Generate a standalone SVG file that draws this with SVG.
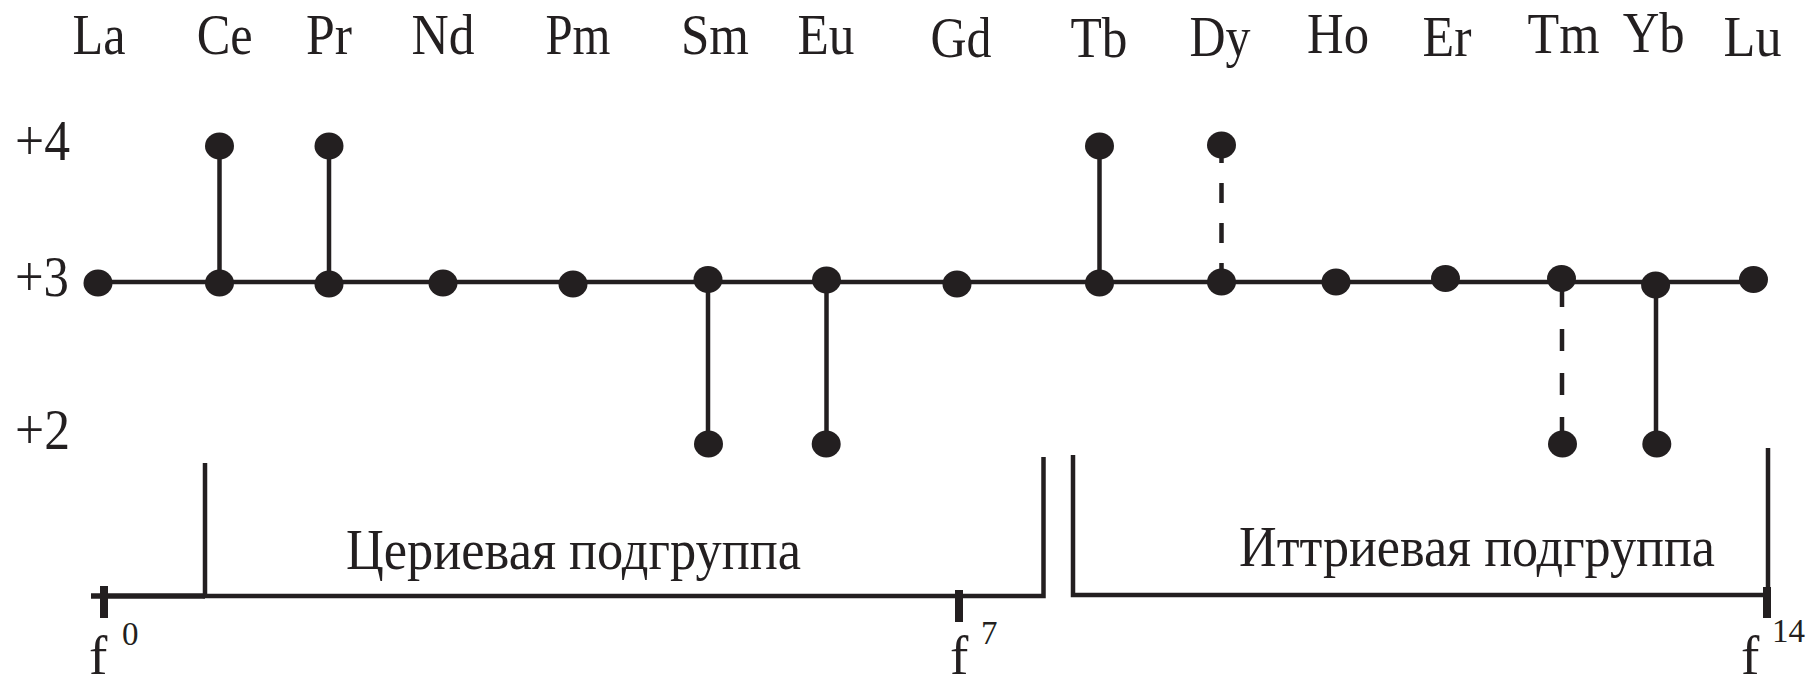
<svg xmlns="http://www.w3.org/2000/svg" width="1808" height="686" viewBox="0 0 1808 686">
<defs>
<style>
.lbl{font-family:"Liberation Serif","Times New Roman",serif;font-size:56px;fill:#231f20}
.f{font-family:"Liberation Serif","Times New Roman",serif;font-size:55px;fill:#231f20}
.sup{font-family:"Liberation Serif","Times New Roman",serif;font-size:33px;fill:#231f20}
.ln{stroke:#231f20;stroke-width:4.5;fill:none}
.dash{stroke-dasharray:20 20}
.dash2{stroke-dasharray:22 22}
.tick{stroke:#231f20;stroke-width:8;fill:none}
.dot{fill:#231f20}
</style>
</defs>
<rect width="1808" height="686" fill="#ffffff"/>

<g id="axis-labels">
<text class="lbl" x="15" y="160" textLength="55" lengthAdjust="spacingAndGlyphs">+4</text>
<text class="lbl" x="15" y="296" textLength="54" lengthAdjust="spacingAndGlyphs">+3</text>
<text class="lbl" x="15" y="449" textLength="55" lengthAdjust="spacingAndGlyphs">+2</text>
</g>

<g id="connectors">
<line class="ln" x1="98" y1="282" x2="1753" y2="282"/>
<line class="ln" x1="219.5" y1="146" x2="219.5" y2="282"/>
<line class="ln" x1="329" y1="146" x2="329" y2="282"/>
<line class="ln" x1="1099.5" y1="146" x2="1099.5" y2="282"/>
<line class="ln dash" x1="1221.5" y1="143" x2="1221.5" y2="283"/>
<line class="ln" x1="708" y1="280" x2="708" y2="444"/>
<line class="ln" x1="826.5" y1="280" x2="826.5" y2="444"/>
<line class="ln dash2" x1="1562" y1="285" x2="1562" y2="444"/>
<line class="ln" x1="1656" y1="285" x2="1656" y2="444"/>
</g>

<g id="el-La"><text class="lbl" x="99" y="54" text-anchor="middle" textLength="53" lengthAdjust="spacingAndGlyphs">La</text>
<ellipse class="dot" cx="98" cy="283" rx="14.5" ry="13.5"/></g>
<g id="el-Ce"><text class="lbl" x="224.7" y="54" text-anchor="middle" textLength="56" lengthAdjust="spacingAndGlyphs">Ce</text>
<ellipse class="dot" cx="219.5" cy="146" rx="14.5" ry="13.5"/><ellipse class="dot" cx="219.5" cy="283" rx="14.5" ry="13.5"/></g>
<g id="el-Pr"><text class="lbl" x="329" y="54" text-anchor="middle" textLength="46" lengthAdjust="spacingAndGlyphs">Pr</text>
<ellipse class="dot" cx="329" cy="146" rx="14.5" ry="13.5"/><ellipse class="dot" cx="329" cy="284" rx="14.5" ry="13.5"/></g>
<g id="el-Nd"><text class="lbl" x="443" y="54" text-anchor="middle" textLength="63" lengthAdjust="spacingAndGlyphs">Nd</text>
<ellipse class="dot" cx="443" cy="283" rx="14.5" ry="13.5"/></g>
<g id="el-Pm"><text class="lbl" x="578" y="54" text-anchor="middle" textLength="65" lengthAdjust="spacingAndGlyphs">Pm</text>
<ellipse class="dot" cx="573" cy="284" rx="14.5" ry="13.5"/></g>
<g id="el-Sm"><text class="lbl" x="715" y="54" text-anchor="middle" textLength="68" lengthAdjust="spacingAndGlyphs">Sm</text>
<ellipse class="dot" cx="708" cy="279.5" rx="14.5" ry="13.5"/><ellipse class="dot" cx="708.5" cy="444" rx="14.5" ry="13.5"/></g>
<g id="el-Eu"><text class="lbl" x="826" y="54" text-anchor="middle" textLength="57" lengthAdjust="spacingAndGlyphs">Eu</text>
<ellipse class="dot" cx="826.5" cy="280" rx="14.5" ry="13.5"/><ellipse class="dot" cx="826.2" cy="444" rx="14.5" ry="13.5"/></g>
<g id="el-Gd"><text class="lbl" x="961" y="57" text-anchor="middle" textLength="61" lengthAdjust="spacingAndGlyphs">Gd</text>
<ellipse class="dot" cx="957" cy="284" rx="14.5" ry="13.5"/></g>
<g id="el-Tb"><text class="lbl" x="1099" y="57" text-anchor="middle" textLength="57" lengthAdjust="spacingAndGlyphs">Tb</text>
<ellipse class="dot" cx="1099.5" cy="146" rx="14.5" ry="13.5"/><ellipse class="dot" cx="1099.5" cy="283" rx="14.5" ry="13.5"/></g>
<g id="el-Dy"><text class="lbl" x="1220" y="56" text-anchor="middle" textLength="61" lengthAdjust="spacingAndGlyphs">Dy</text>
<ellipse class="dot" cx="1221.5" cy="145" rx="14.5" ry="13.5"/><ellipse class="dot" cx="1221.5" cy="282" rx="14.5" ry="13.5"/></g>
<g id="el-Ho"><text class="lbl" x="1338" y="53" text-anchor="middle" textLength="62" lengthAdjust="spacingAndGlyphs">Ho</text>
<ellipse class="dot" cx="1336" cy="282" rx="14.5" ry="13.5"/></g>
<g id="el-Er"><text class="lbl" x="1447" y="56" text-anchor="middle" textLength="49" lengthAdjust="spacingAndGlyphs">Er</text>
<ellipse class="dot" cx="1445.5" cy="278.5" rx="14.5" ry="13.5"/></g>
<g id="el-Tm"><text class="lbl" x="1563.5" y="53" text-anchor="middle" textLength="72" lengthAdjust="spacingAndGlyphs">Tm</text>
<ellipse class="dot" cx="1561.5" cy="278.5" rx="14.5" ry="13.5"/><ellipse class="dot" cx="1562.5" cy="444" rx="14.5" ry="13.5"/></g>
<g id="el-Yb"><text class="lbl" x="1653.7" y="52" text-anchor="middle" textLength="62" lengthAdjust="spacingAndGlyphs">Yb</text>
<ellipse class="dot" cx="1655.6" cy="285" rx="14.5" ry="13.5"/><ellipse class="dot" cx="1656.8" cy="444" rx="14.5" ry="13.5"/></g>
<g id="el-Lu"><text class="lbl" x="1752.5" y="56" text-anchor="middle" textLength="58" lengthAdjust="spacingAndGlyphs">Lu</text>
<ellipse class="dot" cx="1753.5" cy="279.5" rx="14.5" ry="13.5"/></g>

<g id="cerium-subgroup">
<path class="ln" d="M91 596 H205" style="stroke-width:5.5"/>
<path class="ln" d="M205 463 V596 H1043.5 V457" style="stroke-width:4.5"/>
<text class="lbl" x="346" y="569" textLength="455" lengthAdjust="spacingAndGlyphs">Цериевая подгруппа</text>
</g>

<g id="yttrium-subgroup">
<path class="ln" d="M1073 455 V595 H1768 V448" style="stroke-width:4.5"/>
<text class="lbl" x="1239" y="566" textLength="476" lengthAdjust="spacingAndGlyphs">Иттриевая подгруппа</text>
</g>

<g id="f-scale">
<line class="tick" x1="104" y1="586" x2="104" y2="618"/>
<line class="tick" x1="959" y1="590" x2="959" y2="622"/>
<line class="tick" x1="1767" y1="587" x2="1767" y2="618"/>
<text class="f" x="89" y="674">f</text><text class="sup" x="122" y="645">0</text>
<text class="f" x="950" y="674">f</text><text class="sup" x="981" y="644">7</text>
<text class="f" x="1741" y="674">f</text><text class="sup" x="1772" y="642">14</text>
</g>
</svg>
